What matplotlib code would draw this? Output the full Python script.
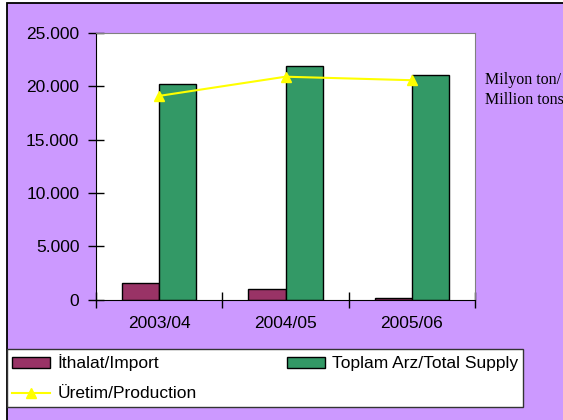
import numpy as np
import matplotlib
matplotlib.use("Agg")
import matplotlib.pyplot as plt
from matplotlib.patches import Rectangle
from matplotlib.ticker import FuncFormatter, FixedLocator

# data (bin ton)
years = ["2003/04", "2004/05", "2005/06"]
ithalat = [1520, 960, 120]
toplam_arz = [20190, 21930, 21060]
uretim = [19100, 20900, 20570]

PURPLE = "#CC99FF"
plt.rcParams["font.family"] = ["Liberation Sans", "DejaVu Sans"]

W, H = 563, 420
fig = plt.figure(figsize=(W / 100, H / 100), dpi=100, facecolor="white")

# purple background panel with black border (cut off at right/bottom)
bg = Rectangle((7 / W, -0.1), 1.2, 1 - 3.3 / H + 0.1, transform=fig.transFigure,
               facecolor=PURPLE, edgecolor="black", lw=1.3, zorder=-10)
fig.add_artist(bg)

ax = fig.add_axes([96 / W, 1 - 299.5 / H, (475 - 96) / W, (299.5 - 33) / H])
ax.set_facecolor("white")

x = np.arange(len(years))
bw = 0.295
ax.bar(x - bw / 2, ithalat, bw, color="#993366", edgecolor="black", lw=1,
       label="İthalat/Import", zorder=2)
ax.bar(x + bw / 2, toplam_arz, bw, color="#339966", edgecolor="black", lw=1,
       label="Toplam Arz/Total Supply", zorder=2)
ax.plot(x, uretim, color="#FFFF00", lw=1.5, marker="^", ms=7,
        label="Üretim/Production", zorder=3)

ax.set_xlim(-0.5, 2.5)
ax.set_ylim(0, 25000)
ax.set_yticks(np.arange(0, 25001, 5000))
ax.yaxis.set_major_formatter(FuncFormatter(
    lambda v, p: "0" if v == 0 else f"{int(v):,}".replace(",", ".")))
ax.tick_params(axis="y", direction="inout", length=11, width=1, pad=6.5,
               labelsize=12.5, colors="black")

ax.xaxis.set_major_locator(FixedLocator([-0.5, 0.5, 1.5, 2.5]))
ax.xaxis.set_minor_locator(FixedLocator(x))
ax.set_xticklabels([], minor=False)
ax.set_xticklabels(years, minor=True)
ax.tick_params(axis="x", which="major", direction="inout", length=12, width=1)
ax.tick_params(axis="x", which="minor", length=0, pad=12, labelsize=12.5)

for s in ["top", "right"]:
    ax.spines[s].set_color("#808080")
for s in ["left", "bottom"]:
    ax.spines[s].set_color("black")

# legend fills column-wise: import, production | supply
h, l = ax.get_legend_handles_labels()
handles = [h[1], h[0], h[2]]
labels = [l[1], l[0], l[2]]
leg = fig.legend(handles, labels, ncol=2, loc="lower left",
                 bbox_to_anchor=(7 / W, 1 - 406.7 / H, (523 - 7) / W, (406.7 - 347.3) / H),
                 mode="expand", fontsize=12.5, frameon=True, fancybox=False,
                 edgecolor="#333333", facecolor="white", framealpha=1,
                 handlelength=2.2, handleheight=0.6, handletextpad=0.4,
                 labelspacing=0.87, borderpad=0.3, borderaxespad=0)
leg.get_frame().set_linewidth(1)

fig.text(485 / W, 1 - 84 / H, "Milyon ton/", family=["Liberation Serif", "DejaVu Serif"],
         fontsize=11.5, va="baseline", ha="left")
fig.text(485 / W, 1 - 104 / H, "Million tons", family=["Liberation Serif", "DejaVu Serif"],
         fontsize=11.5, va="baseline", ha="left")

fig.savefig("out.png", dpi=100, facecolor="white")
